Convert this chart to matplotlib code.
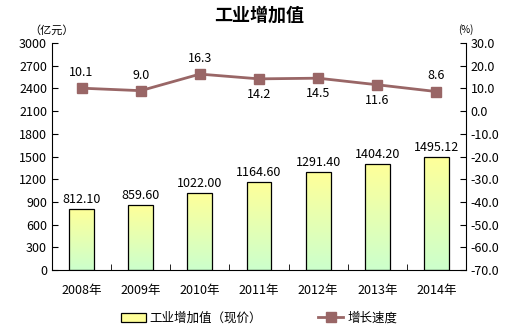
import numpy as np
import matplotlib.pyplot as plt
from matplotlib.lines import Line2D
from matplotlib.patches import Patch

plt.rcParams['font.family'] = ['Noto Sans CJK SC', 'DejaVu Sans']

years = ['2008年', '2009年', '2010年', '2011年', '2012年', '2013年', '2014年']
value_added = [812.10, 859.60, 1022.00, 1164.60, 1291.40, 1404.20, 1495.12]
growth = [10.1, 9.0, 16.3, 14.2, 14.5, 11.6, 8.6]
growth_label_below = [False, False, False, True, True, True, False]

line_color = '#996666'
fig = plt.figure(figsize=(5.18, 3.31), dpi=100)
ax = fig.add_axes([52 / 518, 1 - 270 / 331, 414 / 518, 227 / 331])
x = np.arange(len(years))

bars = ax.bar(x, value_added, width=0.42, color='none', edgecolor='black',
              linewidth=0.9, zorder=3)
# vertical yellow-to-green fill for each bar
grad = np.linspace(0, 1, 256).reshape(-1, 1)
cmap = plt.matplotlib.colors.LinearSegmentedColormap.from_list(
    'yg', ['#CCFFCC', '#FFFF99'])
for b in bars:
    x0, w, h = b.get_x(), b.get_width(), b.get_height()
    im = ax.imshow(grad, cmap=cmap, origin='lower', aspect='auto',
                   extent=[x0, x0 + w, 0, h], zorder=2)
    im.set_clip_path(b)
for xi, v in zip(x, value_added):
    ax.text(xi, v + 40, f'{v:.2f}', ha='center', va='bottom', fontsize=9)

ax.set_xlim(-0.5, len(years) - 0.5)
ax.set_ylim(0, 3000)
ax.set_yticks(np.arange(0, 3001, 300))
ax.set_xticks(x)
ax.set_xticklabels(years, fontsize=9)
ax.set_xticks(np.arange(-0.5, len(years), 1), minor=True)
ax.tick_params(axis='x', which='major', length=0, pad=10)
ax.tick_params(axis='x', which='minor', direction='in', length=4)
ax.tick_params(axis='y', direction='in', length=4, labelsize=9)
ax.spines['top'].set_visible(False)
ax.spines['right'].set_visible(False)

ax2 = ax.twinx()
ax2.plot(x, growth, color=line_color, linewidth=2, marker='s',
         markersize=7, zorder=4)
for xi, g, below in zip(x, growth, growth_label_below):
    if below:
        ax2.text(xi, g - 4, f'{g:.1f}', ha='center', va='top', fontsize=9)
    else:
        ax2.text(xi, g + 4, f'{g:.1f}', ha='center', va='bottom', fontsize=9)
ax2.set_ylim(-70, 30)
ax2.set_yticks(np.arange(-70, 31, 10))
ax2.set_yticklabels([f'{t:.1f}' for t in np.arange(-70, 31, 10)])
ax2.tick_params(axis='y', direction='in', length=4, labelsize=9)
for s in ['top', 'left', 'bottom']:
    ax2.spines[s].set_visible(False)

fig.text(0.5, 1 - 15 / 331, '工业增加值', ha='center', va='center',
         fontsize=13, fontweight='bold')
fig.text(52 / 518, 1 - 30 / 331, '（亿元）', ha='center', va='center', fontsize=8)
fig.text(466 / 518, 1 - 30 / 331, '(%)', ha='center', va='center', fontsize=7)

handles = [Patch(facecolor='#FFFF99', edgecolor='black', linewidth=0.9),
           Line2D([], [], color=line_color, linewidth=2, marker='s', markersize=7)]
fig.legend(handles, ['工业增加值（现价）', '增长速度'], loc='center',
           bbox_to_anchor=(0.5, 1 - 318 / 331), ncol=2, frameon=False,
           fontsize=9, columnspacing=4.5, handlelength=2, handletextpad=0.3)

fig.savefig('out.png', dpi=100)
